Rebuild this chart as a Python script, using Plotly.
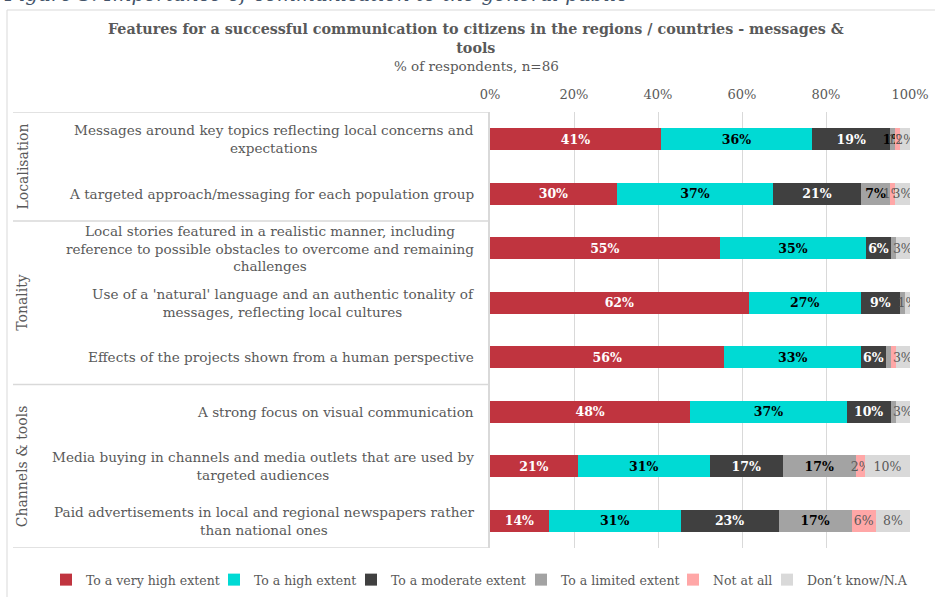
import plotly.graph_objects as go

# Statement rows, top to bottom
statements = [
    "Messages around key topics reflecting local concerns and<br>expectations",
    "A targeted approach/messaging for each population group",
    "Local stories featured in a realistic manner, including<br>reference to possible obstacles to overcome and remaining<br>challenges",
    "Use of a 'natural' language and an authentic tonality of<br>messages, reflecting local cultures",
    "Effects of the projects shown from a human perspective",
    "A strong focus on visual communication",
    "Media buying in channels and media outlets that are used by<br>targeted audiences",
    "Paid advertisements in local and regional newspapers rather<br>than national ones",
]

# Groups of statements: (name, first row index, last row index)
groups = [("Localisation", 0, 1), ("Tonality", 2, 4), ("Channels &amp; tools", 5, 7)]

series_names = [
    "To a very high extent",
    "To a high extent",
    "To a moderate extent",
    "To a limited extent",
    "Not at all",
    "Don\u2019t know/N.A",
]

# % of respondents (n=86) per answer, one list per answer option
very_high = [40.7, 30.2, 54.7, 61.6, 55.8, 47.7, 20.9, 14.0]
high = [36.0, 37.2, 34.9, 26.7, 32.6, 37.2, 31.4, 31.4]
moderate = [18.6, 20.9, 5.8, 9.3, 5.8, 10.5, 17.4, 23.3]
limited = [1.2, 7.0, 1.2, 1.2, 1.2, 1.2, 17.4, 17.4]
not_at_all = [1.2, 1.2, 0.0, 0.0, 1.2, 0.0, 2.3, 5.8]
dont_know = [2.3, 3.4, 3.4, 1.2, 3.4, 3.4, 10.5, 8.1]

series_values = [very_high, high, moderate, limited, not_at_all, dont_know]

x_ticks = [0, 20, 40, 60, 80, 100]
x_tick_labels = ["0%", "20%", "40%", "60%", "80%", "100%"]

# Which data labels are printed for each answer option (per row)
label_shown = [
    [True] * 8,
    [True] * 8,
    [True] * 8,
    [True, True, False, False, False, False, True, True],
    [True, True, False, False, False, False, True, True],
    [True] * 8,
]

colors = ["#C0343F", "#00DAD4", "#404040", "#A3A3A3", "#FFA7A7", "#D9D9D9"]
text_colors = ["#FFFFFF", "#000000", "#FFFFFF", "#000000", "#595959", "#595959"]
text_weights = ["bold", "bold", "bold", "bold", "normal", "normal"]

FONT = "Georgia, 'DejaVu Serif', serif"
GREY = "#595959"

W, H = 935, 597
ML, MR, MT, MB = 490, 25, 112, 49
PW, PH = W - ML - MR, H - MT - MB

# left edge (px) of each legend entry's text along the bottom row
legend_text_px = [86, 254, 391, 561, 713, 807]


def px_x(px):
    return (px - ML) / PW


def px_y(py):
    return (H - MB - py) / PH


legend_ids = ["legend"] + [f"legend{k}" for k in range(2, len(series_names) + 1)]

fig = go.Figure()
for name, vals, shown, col, tcol, tw, lid in zip(
    series_names, series_values, label_shown, colors, text_colors, text_weights, legend_ids
):
    fig.add_trace(
        go.Bar(
            name=name,
            legend=lid,
            y=list(range(len(statements))),
            x=vals,
            orientation="h",
            marker=dict(color=col, line=dict(width=0)),
            text=[f"{v:.0f}%" if s and v > 0 else "" for v, s in zip(vals, shown)],
            textposition="inside",
            insidetextanchor="middle",
            textangle=0,
            textfont=dict(family=FONT, size=12.5, color=tcol, weight=tw),
            hoverinfo="skip",
        )
    )

annotations = []
# Statement labels, lines centred within a right-aligned block
for i, s in enumerate(statements):
    annotations.append(
        dict(
            text=s, xref="paper", yref="y", x=px_x(476), y=i,
            xanchor="right", yanchor="middle", align="center", showarrow=False,
            font=dict(family=FONT, size=13.6, color=GREY),
        )
    )
# Group labels (rotated)
for gname, a, b in groups:
    annotations.append(
        dict(
            text=gname, xref="paper", yref="y", x=px_x(22), y=(a + b) / 2,
            xanchor="center", yanchor="middle", textangle=-90, showarrow=False,
            font=dict(family=FONT, size=14, color=GREY),
        )
    )
# Heading, subtitle and figure caption
annotations += [
    dict(
        text="<b>Features for a successful communication to citizens in the regions / countries - messages &amp;<br>tools</b>",
        xref="paper", yref="paper", x=px_x(476), y=px_y(38),
        xanchor="center", yanchor="middle", align="center", showarrow=False,
        font=dict(family=FONT, size=14.3, color=GREY),
    ),
    dict(
        text="% of respondents, n=86",
        xref="paper", yref="paper", x=px_x(476), y=px_y(66),
        xanchor="center", yanchor="middle", showarrow=False,
        font=dict(family=FONT, size=13.5, color=GREY),
    ),
    dict(
        text="<i>Figure 3: Importance of communication to the general public</i>",
        xref="paper", yref="paper", x=px_x(2), y=px_y(8),
        xanchor="left", yanchor="bottom", showarrow=False,
        font=dict(family=FONT, size=20, color="#44546A"),
    ),
]

shapes = [
    # chart border
    dict(
        type="rect", xref="paper", yref="paper",
        x0=px_x(7), x1=px_x(950), y0=px_y(620), y1=px_y(10),
        line=dict(color="#D9D9D9", width=1), fillcolor="rgba(0,0,0,0)", layer="below",
    )
]
# group separator lines across the label area
bounds = [-0.5] + [b + 0.5 for _, _, b in groups]
for yb in bounds:
    shapes.append(
        dict(
            type="line", xref="paper", yref="y", x0=px_x(13), x1=0, y0=yb, y1=yb,
            line=dict(color="#D9D9D9", width=1.5),
        )
    )

# one single-entry legend per answer option, laid out along one row
legends = {}
for lid, tx in zip(legend_ids, legend_text_px):
    legends[lid] = dict(
        orientation="h", x=px_x(tx - 40), xanchor="left", y=px_y(580), yanchor="middle",
        font=dict(family=FONT, size=12.5, color=GREY), itemwidth=30,
        bgcolor="rgba(0,0,0,0)", borderwidth=0,
    )

fig.update_layout(
    width=W, height=H,
    margin=dict(l=ML, r=MR, t=MT, b=MB, autoexpand=False),
    paper_bgcolor="white", plot_bgcolor="white",
    barmode="stack", bargap=0.6,
    font=dict(family=FONT, color=GREY),
    uniformtext=dict(mode="show", minsize=12.5),
    xaxis=dict(
        range=[0, 100], side="top", tickmode="array", tickvals=x_ticks,
        ticktext=x_tick_labels, showgrid=True, gridcolor="#D9D9D9", gridwidth=1,
        zeroline=False, showline=False, ticks="", ticklabelstandoff=9,
        tickfont=dict(family=FONT, size=13, color=GREY), fixedrange=True,
    ),
    yaxis=dict(
        range=[len(statements) - 0.5, -0.5], showticklabels=False, showgrid=False,
        zeroline=False, showline=True, linecolor="#D9D9D9", linewidth=1.5, ticks="",
        fixedrange=True,
    ),
    annotations=annotations,
    shapes=shapes,
    showlegend=True,
    **legends,
)

fig.write_html("out.html")
